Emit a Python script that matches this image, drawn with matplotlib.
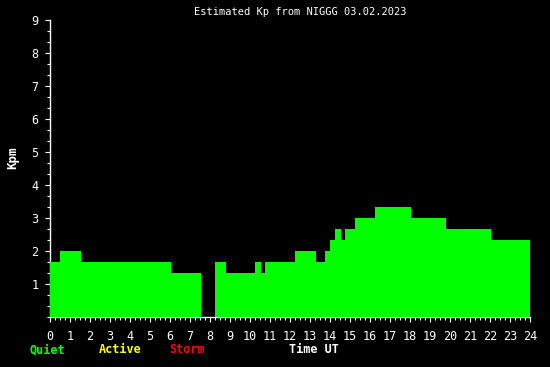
import matplotlib
matplotlib.use("Agg")
import matplotlib.pyplot as plt
from matplotlib.ticker import MultipleLocator, FixedLocator

# Step data: (start hour, end hour, Kp value)
seg_start = [0.0, 0.5, 1.55, 6.03, 8.25, 8.8, 10.25, 10.55, 10.75, 12.25, 13.3,
             13.75, 14.0, 14.25, 14.55, 14.75, 15.25, 16.25, 18.03, 19.8, 22.05]
seg_end = [0.5, 1.55, 6.03, 7.55, 8.8, 10.25, 10.55, 10.75, 12.25, 13.3, 13.75,
           14.0, 14.25, 14.55, 14.75, 15.25, 16.25, 18.03, 19.8, 22.05, 24.0]
kp_values = [1.667, 2.0, 1.667, 1.333, 1.667, 1.333, 1.667, 1.333, 1.667, 2.0, 1.667,
             2.0, 2.333, 2.667, 2.333, 2.667, 3.0, 3.333, 3.0, 2.667, 2.333]

x_ticks = list(range(0, 25))
y_ticks = list(range(1, 10))
title = "Estimated Kp from NIGGG 03.02.2023"

W, H = 550, 367
fig = plt.figure(figsize=(W / 100, H / 100), dpi=100, facecolor="black")
ax = fig.add_axes([50 / W, (H - 317) / H, 480 / W, 297 / H], facecolor="black")

widths = [e - s for s, e in zip(seg_start, seg_end)]
ax.bar(seg_start, kp_values, width=widths, align="edge", color="#00ff00",
       edgecolor="none", linewidth=0, zorder=5)

ax.set_xlim(0, 24)
ax.set_ylim(0, 9)
for s in ["top", "right"]:
    ax.spines[s].set_visible(False)
for s in ["left", "bottom"]:
    ax.spines[s].set_color("white")
    ax.spines[s].set_linewidth(1)
    ax.spines[s].set_zorder(2)

mono = "DejaVu Sans Mono"
ax.xaxis.set_major_locator(FixedLocator(x_ticks))
ax.xaxis.set_minor_locator(MultipleLocator(0.25))
ax.yaxis.set_major_locator(FixedLocator(y_ticks))
ax.yaxis.set_minor_locator(MultipleLocator(1 / 3))
ax.set_xticklabels([str(v) for v in x_ticks], family=mono, fontsize=8.5)
ax.set_yticklabels([str(v) for v in y_ticks], family=mono, fontsize=8.5)
ax.tick_params(axis="both", which="major", colors="white", length=3.6, width=0.8,
               direction="out")
ax.tick_params(axis="both", which="minor", colors="white", length=2.2, width=0.8,
               direction="out")
ax.tick_params(axis="x", which="major", pad=5.5)
ax.tick_params(axis="y", which="major", pad=4.5)

fig.text(300 / W, 1 - 12 / H, title, color="white", family=mono, fontsize=7.5,
         ha="center", va="center")
fig.text(13 / W, 1 - 158 / H, "Kpm", color="white", family=mono, fontsize=9,
         fontweight="bold", rotation=90, ha="center", va="center")

legend_items = [("Quiet", "#00ff00", 29), ("Active", "#ffff00", 99),
                ("Storm", "#ff0000", 169), ("Time UT", "white", 289)]
for txt, col, xpix in legend_items:
    fig.text(xpix / W, 1 - 353 / H, txt, color=col, family=mono, fontsize=8.5,
             fontweight="bold", ha="left", va="baseline")

fig.savefig("out.png", dpi=100, facecolor="black")
